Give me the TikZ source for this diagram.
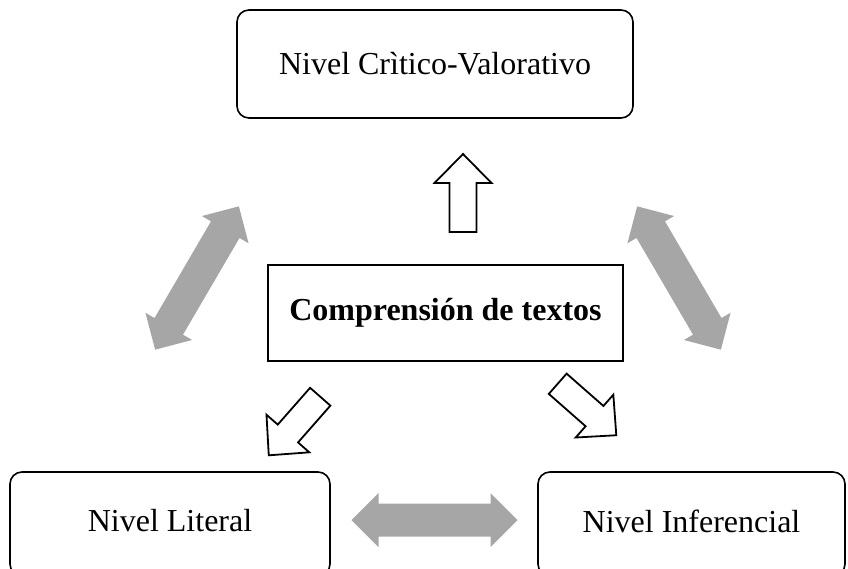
\documentclass[tikz,border=0pt]{standalone}
\usepackage{fontspec}
\setmainfont{Liberation Serif}
\definecolor{arrowgray}{HTML}{A6A6A6}
\tikzset{
  levelbox/.style={draw=black, line width=1.6pt, rounded corners=12pt, fill=white,
    inner sep=0pt, font=\fontsize{32}{38}\selectfont},
  mainbox/.style={draw=black, line width=2.6pt, fill=white, inner sep=0pt,
    font=\fontsize{32}{38}\selectfont\bfseries},
  outline arrow/.style={draw=black, line width=1.8pt, fill=white, line join=miter},
  gray arrow/.style={draw=none, fill=arrowgray},
  pics/blockarrow/.style={code={
    \path[outline arrow] (-39,-13.5) -- (10,-13.5) -- (10,-28.5) -- (39,0)
      -- (10,28.5) -- (10,13.5) -- (-39,13.5) -- cycle;}},
  pics/twoarrow/.style={code={
    \path[gray arrow] (-83,0) -- (-56,-27) -- (-56,-16.5) -- (56,-16.5) -- (56,-27)
      -- (83,0) -- (56,27) -- (56,16.5) -- (-56,16.5) -- (-56,27) -- cycle;}}
}
\begin{document}
\begin{tikzpicture}[x=1pt,y=-1pt]
\useasboundingbox (0,0) rectangle (848,568);
\begin{scope}
\clip (0,0) rectangle (848,568);
\node[levelbox, minimum width=396pt, minimum height=108pt] (critico) at (435,64) {Nivel Crìtico-Valorativo};
\node[mainbox, minimum width=355pt, minimum height=96pt] (comp) at (445.5,313) {Comprensión de textos};
\node[levelbox, minimum width=320pt, minimum height=104pt] (literal) at (170,524) {};
\node[levelbox, minimum width=307pt, minimum height=104pt] (infer) at (691.5,524) {};
\node[font=\fontsize{32}{38}\selectfont] (literaltxt) at (170,521) {Nivel Literal};
\node[font=\fontsize{32}{38}\selectfont] (infertxt) at (691.5,521) {Nivel Inferencial};

\pic[rotate=90] (up) at (463,193) {blockarrow};
\pic[rotate=228.7] (dl) at (294.5,426) {blockarrow};
\pic[rotate=-41.3] (dr) at (587,409.5) {blockarrow};

\pic[rotate=59.7] (gl) at (197,278) {twoarrow};
\pic[rotate=120.3] (gr) at (679,278) {twoarrow};
\pic (gb) at (434.5,520) {twoarrow};
\end{scope}
\end{tikzpicture}
\end{document}
